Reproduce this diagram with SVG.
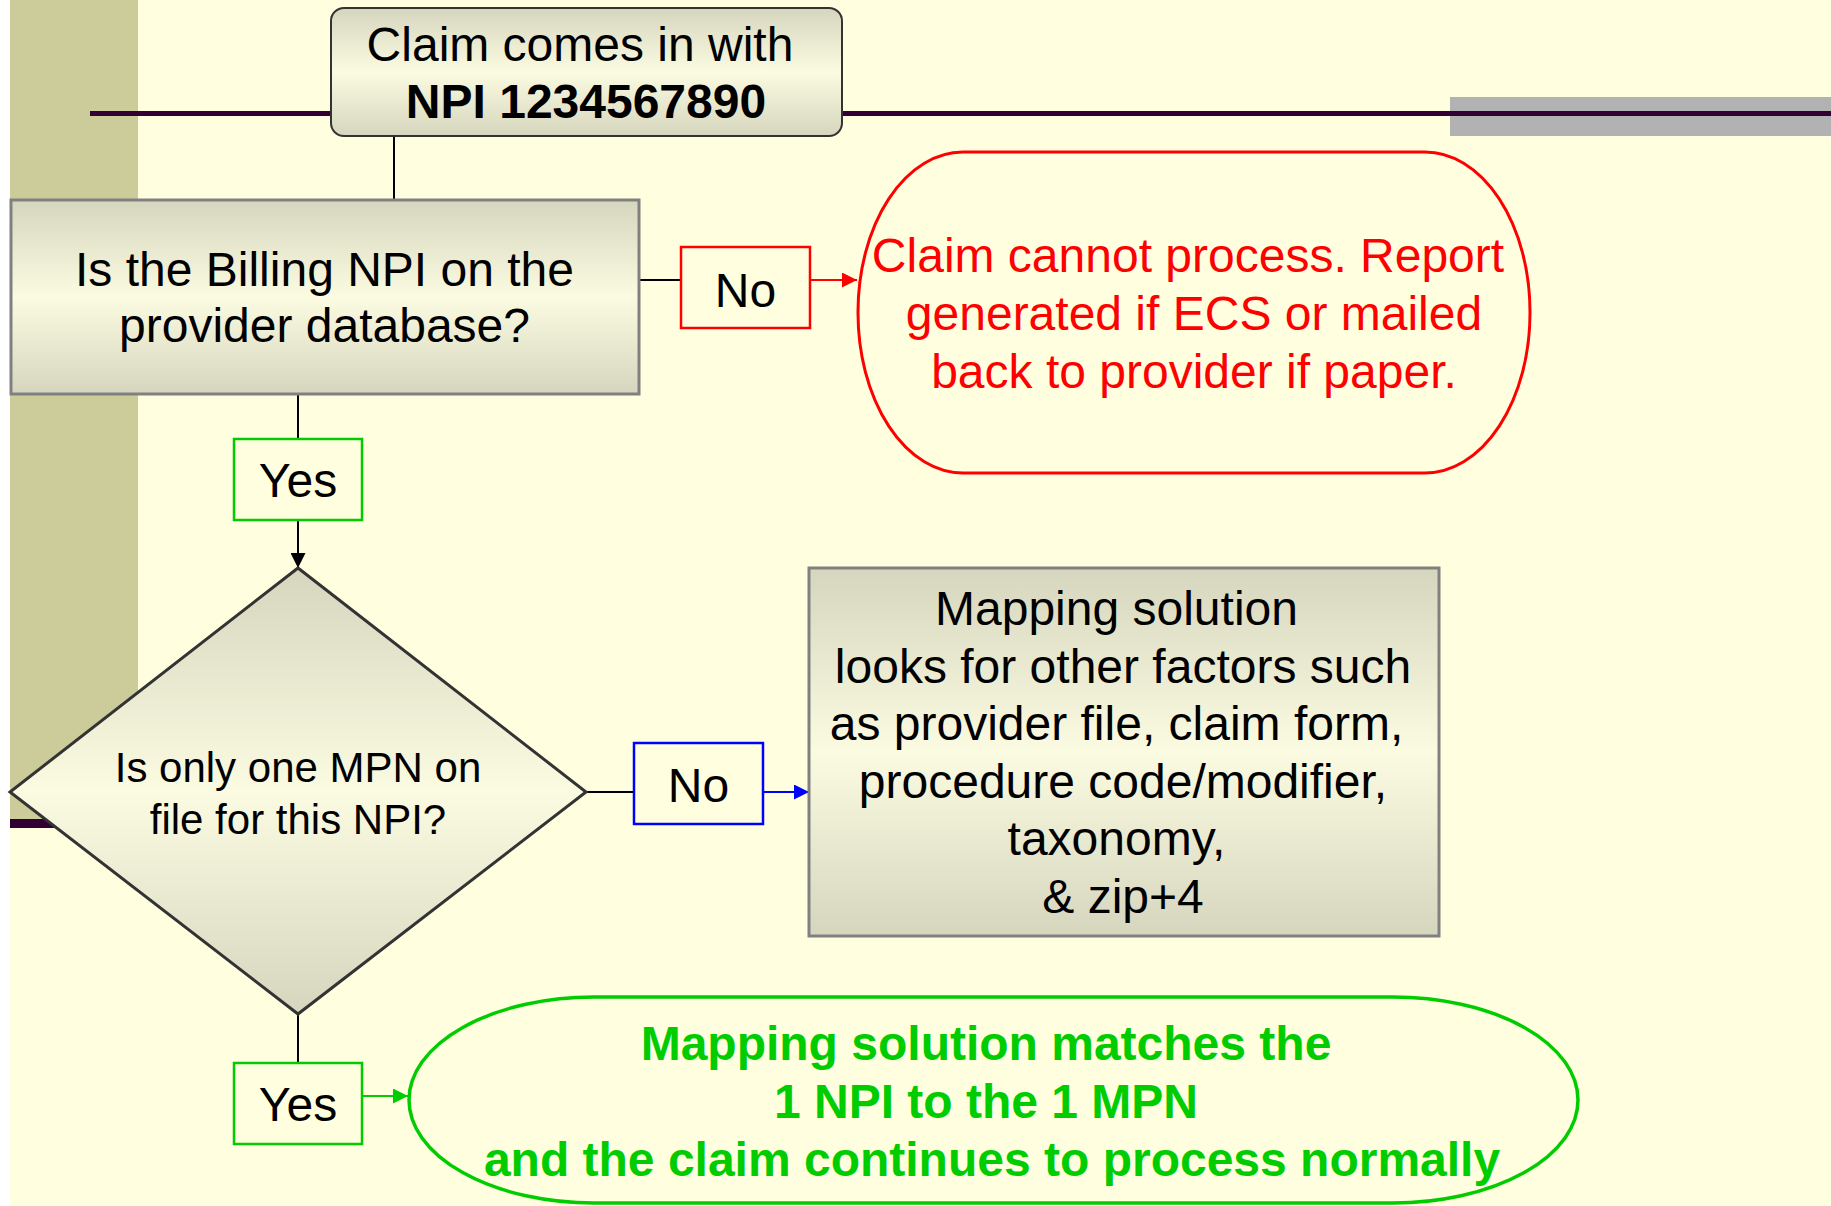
<svg xmlns="http://www.w3.org/2000/svg" width="1831" height="1206" viewBox="0 0 1831 1206">
<defs>
<linearGradient id="g" x1="0" y1="0" x2="0" y2="1">
<stop offset="0" stop-color="#d6d6be"/>
<stop offset="0.5" stop-color="#fbfbe2"/>
<stop offset="1" stop-color="#d6d6be"/>
</linearGradient>
<marker id="aK" markerUnits="userSpaceOnUse" markerWidth="15" markerHeight="15" refX="15" refY="7.5" orient="auto"><path d="M0,0 L15,7.5 L0,15 z" fill="#000"/></marker>
<marker id="aR" markerUnits="userSpaceOnUse" markerWidth="15" markerHeight="15" refX="15" refY="7.5" orient="auto"><path d="M0,0 L15,7.5 L0,15 z" fill="#ff0000"/></marker>
<marker id="aB" markerUnits="userSpaceOnUse" markerWidth="15" markerHeight="15" refX="15" refY="7.5" orient="auto"><path d="M0,0 L15,7.5 L0,15 z" fill="#0000ff"/></marker>
<marker id="aG" markerUnits="userSpaceOnUse" markerWidth="15" markerHeight="15" refX="15" refY="7.5" orient="auto"><path d="M0,0 L15,7.5 L0,15 z" fill="#00cc00"/></marker>
</defs>
<style>
text{font-family:"Liberation Sans",Arial,sans-serif;font-size:48px;text-anchor:middle;fill:#000}
.b{font-weight:bold}
.red{fill:#ff0000}
.grn{fill:#00cc00;font-weight:bold}
.sm{font-size:42px}
.proc{fill:url(#g);stroke:#808080;stroke-width:3}
.lbl{fill:#ffffe0;stroke-width:2.5}
.c{stroke:#000;stroke-width:2;fill:none}
</style>
<g id="background">
<rect x="0" y="0" width="1831" height="1206" fill="#ffffe0"/>
<rect x="0" y="0" width="10" height="1206" fill="#ffffff"/>
<rect x="10" y="0" width="128" height="819" fill="#cccc9a"/>
<rect x="10" y="819" width="100" height="9" fill="#330033"/>
<rect x="1450" y="97" width="381" height="39" fill="#b2b2b2"/>
<rect x="90" y="111" width="1741" height="5" fill="#330033"/>
</g>
<g id="connectors">
<line class="c" x1="394" y1="136" x2="394" y2="199"/>
<line class="c" x1="639" y1="280" x2="681" y2="280"/>
<line x1="810" y1="280" x2="857" y2="280" stroke="#ff0000" stroke-width="2" marker-end="url(#aR)"/>
<line class="c" x1="298" y1="394" x2="298" y2="439"/>
<line class="c" x1="298" y1="520" x2="298" y2="568" marker-end="url(#aK)"/>
<line class="c" x1="586" y1="792" x2="634" y2="792"/>
<line x1="763" y1="792" x2="809" y2="792" stroke="#0000ff" stroke-width="2" marker-end="url(#aB)"/>
<line class="c" x1="298" y1="1014" x2="298" y2="1063"/>
<line x1="362" y1="1096" x2="408" y2="1096" stroke="#00cc00" stroke-width="2" marker-end="url(#aG)"/>
</g>
<g id="start">
<rect x="331" y="8" width="511" height="128" rx="13" fill="url(#g)" stroke="#333333" stroke-width="2"/>
<text x="580" y="61">Claim comes in with</text>
<text x="586" y="118" class="b">NPI 1234567890</text>
</g>
<g id="billing-check">
<rect class="proc" x="11" y="200" width="628" height="194"/>
<text x="324.5" y="286">Is the Billing NPI on the</text>
<text x="324.5" y="342">provider database?</text>
</g>
<g id="no1">
<rect class="lbl" x="681" y="247" width="129" height="81" stroke="#ff0000"/>
<text x="745.5" y="307">No</text>
</g>
<g id="reject">
<rect x="858" y="152" width="672" height="321" rx="105" ry="160" fill="#ffffe0" stroke="#ff0000" stroke-width="3"/>
<text x="1188" y="272" class="red">Claim cannot process. Report</text>
<text x="1194" y="330" class="red">generated if ECS or mailed</text>
<text x="1194" y="388" class="red">back to provider if paper.</text>
</g>
<g id="yes1">
<rect class="lbl" x="234" y="439" width="128" height="81" stroke="#00cc00"/>
<text x="298" y="497">Yes</text>
</g>
<g id="mpn-check">
<polygon points="298,568 586,792 298,1014 10,792" fill="url(#g)" stroke="#333333" stroke-width="3"/>
<text x="298" y="782" class="sm">Is only one MPN on</text>
<text x="298" y="834" class="sm">file for this NPI?</text>
</g>
<g id="no2">
<rect class="lbl" x="634" y="743" width="129" height="81" stroke="#0000ff"/>
<text x="698.5" y="802">No</text>
</g>
<g id="mapping-factors">
<rect class="proc" x="809" y="568" width="630" height="368"/>
<text x="1116.5" y="625">Mapping solution</text>
<text x="1123" y="682.5">looks for other factors such</text>
<text x="1116.5" y="740">as provider file, claim form,</text>
<text x="1123" y="797.5">procedure code/modifier,</text>
<text x="1116.5" y="855">taxonomy,</text>
<text x="1123" y="912.5">&amp; zip+4</text>
</g>
<g id="yes2">
<rect class="lbl" x="234" y="1063" width="128" height="81" stroke="#00cc00"/>
<text x="298" y="1121">Yes</text>
</g>
<g id="match">
<rect x="409" y="997" width="1169" height="206" rx="185" ry="103" fill="#ffffe0" stroke="#00cc00" stroke-width="3.5"/>
<text x="986" y="1060" class="grn">Mapping solution matches the</text>
<text x="986" y="1118" class="grn">1 NPI to the 1 MPN</text>
<text x="992" y="1176" class="grn">and the claim continues to process normally</text>
</g>
</svg>
